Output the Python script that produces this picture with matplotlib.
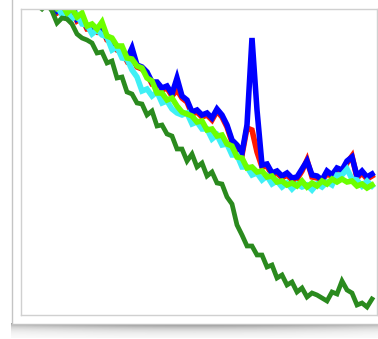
import numpy as np
import matplotlib.pyplot as plt
from matplotlib.patches import Rectangle

# sample index along the x axis (one sample every few pixels of the original)
steps = np.arange(71)

# heights, larger = higher on the chart
red_vals = [337, 328, 328, 318, 319, 309, 311, 302, 305, 298, 305, 294, 297, 286, 286,
            283, 287, 275, 272, 265, 263, 254, 258, 248, 246, 241, 231, 231, 225, 227,
            219, 225, 217, 213, 201, 203, 198, 200, 195, 204, 198, 188, 173, 168, 160,
            187, 185, 163, 148, 149, 140, 142, 137, 140, 135, 136, 144, 155, 138, 137,
            133, 142, 138, 145, 143, 152, 159, 137, 142, 136, 139]
blue_vals = [339, 330, 330, 320, 321, 311, 313, 304, 307, 300, 312, 296, 299, 288, 288,
             285, 289, 277, 274, 267, 265, 256, 267, 250, 248, 243, 233, 233, 227, 229,
             221, 237, 219, 215, 203, 205, 200, 202, 197, 206, 200, 190, 175, 170, 162,
             190, 277, 205, 150, 151, 142, 144, 139, 142, 137, 138, 146, 154, 140, 139,
             135, 144, 140, 147, 145, 154, 158, 139, 144, 138, 141]
cyan_vals = [332, 333, 322, 324, 314, 316, 307, 309, 300, 304, 296, 300, 291, 290, 281,
             285, 280, 278, 265, 268, 257, 256, 245, 238, 224, 226, 219, 223, 212, 214,
             206, 202, 200, 202, 191, 193, 186, 186, 176, 180, 170, 171, 160, 160, 148,
             148, 140, 142, 135, 139, 131, 134, 128, 132, 126, 131, 128, 130, 125, 131,
             128, 133, 130, 140, 140, 146, 136, 135, 129, 134, 129]
lime_vals = [343, 332, 334, 322, 325, 314, 317, 307, 311, 302, 307, 298, 302, 289, 291,
             286, 293, 279, 277, 269, 269, 257, 256, 249, 247, 237, 234, 222, 222, 215,
             217, 209, 203, 201, 199, 193, 194, 185, 186, 179, 180, 171, 169, 158, 157,
             147, 148, 143, 144, 138, 139, 133, 134, 130, 132, 129, 134, 128, 132, 129,
             134, 131, 136, 133, 136, 133, 134, 129, 131, 127, 130]
dkgreen_vals = [332, 320, 320, 310, 306, 311, 304, 292, 297, 296, 291, 281, 277, 275, 272,
                262, 263, 252, 254, 237, 238, 223, 221, 212, 211, 200, 204, 189, 190, 181,
                179, 166, 166, 154, 161, 148, 152, 139, 143, 132, 131, 118, 111, 90, 80,
                69, 69, 60, 60, 48, 50, 37, 40, 30, 33, 23, 27, 18, 22, 20,
                17, 14, 23, 21, 34, 25, 22, 10, 12, 8, 16]

W, H = 378, 339
fig = plt.figure(figsize=(W / 100, H / 100), dpi=100)

# background layer: card with a soft drop shadow
bg = fig.add_axes([0, 0, 1, 1])
bg.set_xlim(0, W)
bg.set_ylim(H, 0)
bg.axis('off')

sx = np.linspace(0, 1, 200)
sy = np.linspace(0, 1, 40)
gx, gy = np.meshgrid(sx, sy)
shade = np.exp(-gy * 3.0) * (0.6 + 0.4 * np.sin(np.pi * np.clip(gx * 0.9 + 0.05, 0, 1)))
img = np.ones((40, 200, 4))
img[..., :3] = 0.35
img[..., 3] = shade * 0.9
bg.imshow(img, extent=(11, W, 338, 323), aspect='auto', interpolation='bilinear', zorder=0)

bg.add_patch(Rectangle((12, -5), W, 329, facecolor='white', edgecolor='#c4c4c4',
                       linewidth=1.0, zorder=1))

# the chart itself
ax = fig.add_axes([21 / W, 1 - 315 / H, 356 / W, 306 / H])
ax.set_facecolor('white')

ax.plot(steps, red_vals, color='#ff1a00', linewidth=4.0, solid_joinstyle='miter')
ax.plot(steps, blue_vals, color='#0000ff', linewidth=4.0, solid_joinstyle='miter')
ax.plot(steps, cyan_vals, color='#3ff0f5', linewidth=4.0, solid_joinstyle='miter')
ax.plot(steps, lime_vals, color='#6cff00', linewidth=4.0, solid_joinstyle='miter')
ax.plot(steps, dkgreen_vals, color='#2a8a1e', linewidth=3.4, solid_joinstyle='miter')

ax.set_xlim(-0.2, 71)
ax.set_ylim(0, 306)
ax.set_xticks([])
ax.set_yticks([])
for sp in ax.spines.values():
    sp.set_color('#d0d0d0')
    sp.set_linewidth(1.0)

fig.savefig('out.png', dpi=100)
